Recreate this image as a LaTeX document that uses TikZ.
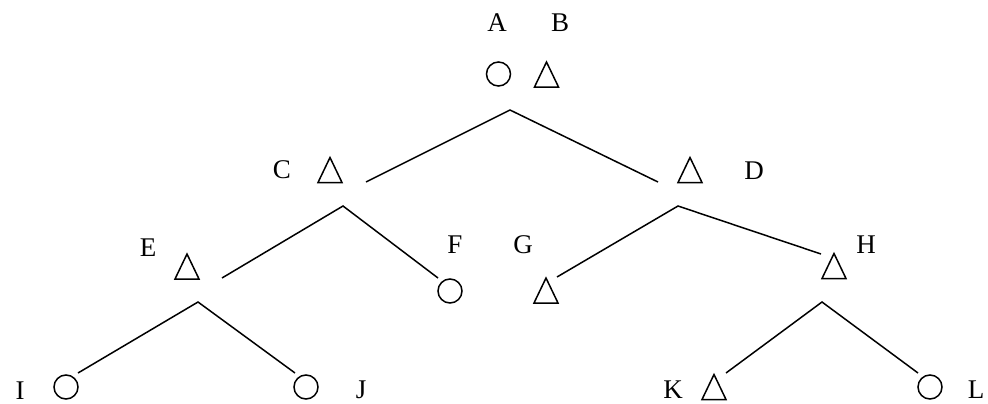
\documentclass[tikz,border=0pt]{standalone}
\usepackage{fontspec}
\setmainfont{Liberation Serif}
\begin{document}
\begin{tikzpicture}[x=1pt,y=-1pt,
  lbl/.style={anchor=base,inner sep=0pt,font=\fontsize{27}{32}\selectfont},
  edge/.style={line width=1.5pt},
  pics/tri/.style={code={\draw[line width=1.5pt,line join=miter] (-12,12.5)--(12,12.5)--(0,-12.5)--cycle;}},
  pics/circ/.style={code={\draw[line width=1.5pt] (0,0) circle (12pt);}}]
\useasboundingbox (0,0) rectangle (988,404);
\fill[white] (0,0) rectangle (988,404);
% labels
\node[lbl] (lA) at (497,32) {A};
\node[lbl] (lB) at (560,32) {B};
\node[lbl] (lC) at (282,178) {C};
\node[lbl] (lD) at (754,179) {D};
\node[lbl] (lE) at (148,256) {E};
\node[lbl] (lF) at (455,253) {F};
\node[lbl] (lG) at (523,253) {G};
\node[lbl] (lH) at (866,253) {H};
\node[lbl] (lI) at (20,399) {I};
\node[lbl] (lJ) at (361,398) {J};
\node[lbl] (lK) at (673,398) {K};
\node[lbl] (lL) at (976,398) {L};
% shapes
\pic at (498.5,74) {circ};
\pic at (546.5,74.5) {tri};
\pic at (330,170) {tri};
\pic at (690,170) {tri};
\pic at (187,266.5) {tri};
\pic at (450,291) {circ};
\pic at (546,290.5) {tri};
\pic at (834,266) {tri};
\pic at (66,387) {circ};
\pic at (306,387) {circ};
\pic at (714,387) {tri};
\pic at (930,387) {circ};
% branch points and ends
\coordinate (r) at (510,110);
\coordinate (rl) at (366,182);
\coordinate (rr) at (658,182);
\coordinate (c) at (343,206);
\coordinate (cl) at (222,278);
\coordinate (cr) at (438,278);
\coordinate (d) at (678,206);
\coordinate (dl) at (557,277);
\coordinate (dr) at (821,254);
\coordinate (e) at (198,302);
\coordinate (el) at (78,373);
\coordinate (er) at (295,373);
\coordinate (h) at (822,302);
\coordinate (hl) at (726,373);
\coordinate (hr) at (918,373);
\draw[edge] (rl) -- (r) -- (rr);
\draw[edge] (cl) -- (c) -- (cr);
\draw[edge] (dl) -- (d) -- (dr);
\draw[edge] (el) -- (e) -- (er);
\draw[edge] (hl) -- (h) -- (hr);
\end{tikzpicture}
\end{document}
